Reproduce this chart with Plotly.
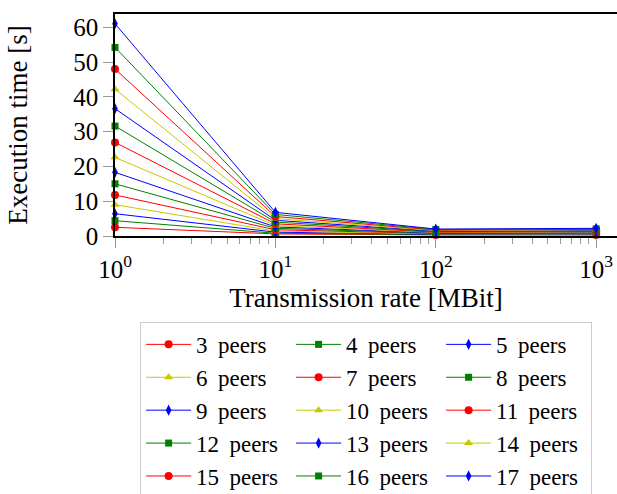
import plotly.graph_objects as go

rates = [1, 10, 100, 1000]
peers = list(range(3, 18))
t_rate1 = [2.5, 4.4, 6.4, 9.0, 11.8, 15.0, 18.3, 22.6, 26.9, 31.6, 36.6, 42.2, 48.0, 54.2, 61.0]
t_rate10 = [0.6, 0.8, 1.1, 1.4, 1.8, 2.2, 2.6, 3.0, 3.5, 4.0, 4.5, 5.0, 5.6, 6.2, 6.8]
t_rate100 = [0.3, 0.4, 0.5, 0.6, 0.7, 0.8, 0.9, 1.0, 1.1, 1.25, 1.4, 1.55, 1.7, 1.85, 2.0]
t_rate1000 = [0.3, 0.4, 0.5, 0.6, 0.75, 0.9, 1.0, 1.15, 1.3, 1.45, 1.6, 1.75, 1.9, 2.05, 2.2]
x_ticks = [1, 10, 100, 1000]
x_ticktext = ["10<sup>0</sup>", "10<sup>1</sup>", "10<sup>2</sup>", "10<sup>3</sup>"]
y_ticks = [0, 10, 20, 30, 40, 50, 60]

styles = [
    ("#ff0000", "circle", 8),
    ("#008000", "square", 7),
    ("#0000ff", "diamond-tall", 8),
    ("#c8c800", "triangle-up", 8),
]

FONT = "Liberation Serif"
fig = go.Figure()
for i, n in enumerate(peers):
    color, sym, size = styles[i % 4]
    ys = [t_rate1[i], t_rate10[i], t_rate100[i], t_rate1000[i]]
    fig.add_trace(go.Scatter(
        x=rates, y=ys, mode="lines+markers", name=f"{n} \u2009peers",
        line=dict(color=color, width=1),
        marker=dict(color=color, symbol=sym, size=size, line=dict(width=0)),
        cliponaxis=False,
    ))

minor_vals = [m * 10 ** k for k in range(3) for m in range(2, 10)]
fig.update_layout(
    width=617, height=494,
    margin=dict(l=115, r=0, t=14, b=258, autoexpand=False),
    paper_bgcolor="white", plot_bgcolor="white",
    font=dict(family=FONT, size=25, color="black"),
    showlegend=True,
    legend=dict(
        orientation="h", x=0.05, xanchor="left", y=-0.387, yanchor="top",
        entrywidth=90, entrywidthmode="pixels", itemwidth=45,
        bordercolor="#cccccc", borderwidth=1, bgcolor="white",
        font=dict(family=FONT, size=23, color="black"),
        traceorder="normal",
    ),
    xaxis=dict(
        type="log", range=[0, 3.13],
        tickvals=x_ticks, ticktext=x_ticktext,
        ticks="outside", ticklen=10, tickcolor="#999999", tickwidth=1,
        showline=True, linecolor="black", linewidth=1.5, mirror=True,
        showgrid=False, zeroline=False,
        minor=dict(tickvals=minor_vals, ticks="outside", ticklen=6, tickcolor="#999999", tickwidth=1, showgrid=False),
        title=dict(text="Transmission rate [MBit]", standoff=4, font=dict(family=FONT, size=27)),
        tickfont=dict(family=FONT, size=25),
    ),
    yaxis=dict(
        range=[0, 63.8], tickvals=y_ticks,
        ticks="outside", ticklen=10, tickcolor="#999999", tickwidth=1,
        showline=True, linecolor="black", linewidth=1.5, mirror=False,
        showgrid=False, zeroline=False,
        title=dict(text="Execution time [s]", standoff=38, font=dict(family=FONT, size=27)),
        tickfont=dict(family=FONT, size=25),
    ),
)
fig.write_html(
    "out.html",
    config={"displayModeBar": False},
    post_script="document.body.style.margin='0';document.body.style.overflow='hidden';",
)
